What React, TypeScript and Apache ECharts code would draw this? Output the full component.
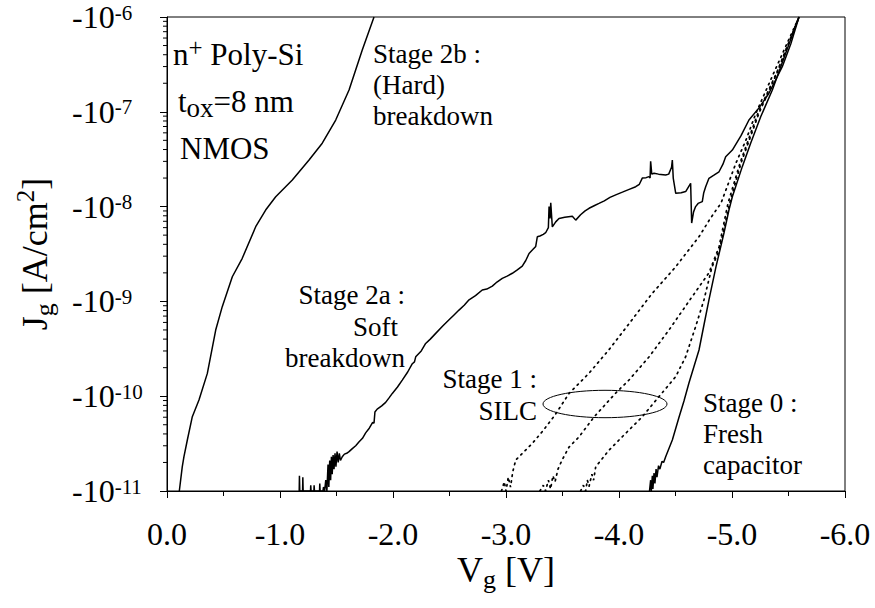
import React, { useEffect, useRef } from "react";
import * as echarts from "echarts";

const FONT = "'Liberation Serif', serif";

// x: gate voltage Vg [V]; y: |Jg| [A/cm^2] (plotted as -10^n)
const xTickValues = [0, -1, -2, -3, -4, -5, -6];
const xMinorTickValues = [-0.5, -1.5, -2.5, -3.5, -4.5, -5.5];
const yDecades = [-11, -10, -9, -8, -7, -6];
const yMinorMantissas = [2, 3, 4, 5, 6, 7, 8, 9];

// Stage 2b : (Hard) breakdown
const hardBreakdown: [number, number][] = [
  [-0.109, 1.0e-11], [-0.121, 1.31e-11], [-0.135, 1.8e-11], [-0.15, 2.3e-11],
  [-0.18, 3.45e-11], [-0.224, 6.08e-11], [-0.283, 9.1e-11], [-0.357, 1.74e-10],
  [-0.431, 4.99e-10], [-0.489, 8.8e-10], [-0.578, 1.82e-9], [-0.666, 2.85e-9],
  [-0.785, 6.14e-9], [-0.873, 9.2e-9], [-0.962, 1.27e-8], [-1.109, 1.91e-8],
  [-1.257, 3.1e-8], [-1.374, 4.66e-8], [-1.493, 8.18e-8], [-1.611, 1.7e-7],
  [-1.728, 4.49e-7], [-1.832, 1.0e-6],
];

// Stage 2a : Soft breakdown
const softBreakdown: [number, number][] = [
  [-1.17, 1.0e-11], [-1.172, 1.45e-11], [-1.175, 1.0e-11], [-1.2, 1.0e-11], [-1.202, 1.4e-11],
  [-1.205, 1.0e-11], [-1.27, 1.0e-11], [-1.272, 1.15e-11], [-1.275, 1.0e-11], [-1.3, 1.0e-11],
  [-1.302, 1.15e-11], [-1.305, 1.0e-11], [-1.35, 1.0e-11], [-1.352, 1.2e-11], [-1.355, 1.0e-11],
  [-1.38, 1.0e-11], [-1.385, 1.1e-11], [-1.395, 1.0e-11], [-1.405, 1.3e-11], [-1.415, 1.0e-11],
  [-1.425, 1.9e-11], [-1.432, 1.1e-11], [-1.44, 2.1e-11], [-1.448, 1.3e-11], [-1.455, 2.3e-11],
  [-1.462, 1.5e-11], [-1.47, 2.4e-11], [-1.478, 1.7e-11], [-1.487, 2.5e-11], [-1.495, 1.8e-11],
  [-1.505, 2.6e-11], [-1.515, 2.0e-11], [-1.525, 2.5e-11], [-1.535, 2.1e-11], [-1.551, 2.3e-11],
  [-1.57, 2.45e-11], [-1.59, 2.5e-11], [-1.611, 2.6e-11], [-1.64, 2.8e-11], [-1.67, 3.0e-11],
  [-1.7, 3.3e-11], [-1.73, 3.6e-11], [-1.758, 4.1e-11], [-1.79, 4.6e-11], [-1.82, 5.3e-11],
  [-1.832, 5.2e-11], [-1.84, 6.8e-11], [-1.86, 7.3e-11], [-1.9, 7.9e-11], [-1.935, 8.6e-11],
  [-1.965, 9.6e-11], [-1.994, 1.07e-10], [-2.04, 1.25e-10], [-2.082, 1.48e-10], [-2.13, 1.8e-10],
  [-2.171, 2.2e-10], [-2.19, 2.3e-10], [-2.201, 2.6e-10], [-2.25, 3.0e-10], [-2.289, 3.6e-10],
  [-2.33, 4.0e-10], [-2.378, 4.6e-10], [-2.44, 5.5e-10], [-2.496, 6.4e-10], [-2.54, 7.2e-10],
  [-2.584, 8.1e-10], [-2.63, 9.1e-10], [-2.673, 1.04e-9], [-2.73, 1.15e-9], [-2.79, 1.32e-9],
  [-2.83, 1.35e-9], [-2.879, 1.45e-9], [-2.92, 1.6e-9], [-2.967, 1.75e-9], [-3.01, 1.85e-9],
  [-3.056, 1.98e-9], [-3.1, 2.15e-9], [-3.144, 2.35e-9], [-3.175, 2.7e-9], [-3.204, 3.2e-9],
  [-3.235, 3.5e-9], [-3.263, 3.8e-9], [-3.277, 4.8e-9], [-3.3, 4.9e-9], [-3.33, 5.1e-9],
  [-3.351, 5.3e-9], [-3.375, 6.0e-9], [-3.381, 1.0e-8], [-3.39, 7.5e-9], [-3.396, 1.1e-8],
  [-3.41, 6.1e-9], [-3.44, 6.9e-9], [-3.469, 7.5e-9], [-3.52, 7.7e-9], [-3.587, 7.9e-9],
  [-3.617, 7.2e-9], [-3.66, 8.2e-9], [-3.7, 9.0e-9], [-3.735, 9.6e-9], [-3.78, 1.02e-8],
  [-3.823, 1.08e-8], [-3.87, 1.15e-8], [-3.92, 1.25e-8], [-3.971, 1.33e-8], [-4.03, 1.42e-8],
  [-4.09, 1.52e-8], [-4.148, 1.62e-8], [-4.18, 1.72e-8], [-4.206, 2.0e-8], [-4.24, 2.02e-8],
  [-4.265, 2.07e-8], [-4.275, 2.0e-8], [-4.28, 3.0e-8], [-4.29, 2.2e-8], [-4.31, 2.25e-8],
  [-4.35, 2.2e-8], [-4.413, 2.15e-8], [-4.44, 2.2e-8], [-4.465, 2.6e-8], [-4.472, 3.1e-8],
  [-4.48, 2.0e-8], [-4.502, 1.38e-8], [-4.55, 1.4e-8], [-4.59, 1.44e-8], [-4.634, 1.76e-8],
  [-4.643, 6.7e-9], [-4.66, 8.8e-9], [-4.678, 1.0e-8], [-4.7, 1.08e-8], [-4.737, 1.13e-8],
  [-4.75, 1.4e-8], [-4.767, 1.62e-8], [-4.796, 1.99e-8], [-4.84, 2.15e-8], [-4.885, 2.33e-8],
  [-4.92, 2.8e-8], [-4.944, 3.36e-8], [-5.003, 3.95e-8], [-5.08, 5.6e-8], [-5.15, 8.2e-8],
  [-5.239, 1.1e-7], [-5.327, 1.57e-7], [-5.445, 2.99e-7], [-5.52, 5.2e-7], [-5.593, 1.0e-6],
];

// Stage 1 : SILC (three stressed curves, dotted)
const silc1: [number, number][] = [
  [-2.96, 1.0e-11], [-2.985, 1.25e-11], [-3.0, 1.0e-11], [-3.02, 1.4e-11], [-3.04, 1.1e-11],
  [-3.06, 1.6e-11], [-3.086, 2.12e-11], [-3.16, 2.6e-11], [-3.233, 3.18e-11], [-3.321, 4.23e-11],
  [-3.434, 6.34e-11], [-3.558, 1.07e-10], [-3.735, 1.75e-10], [-3.912, 3.1e-10], [-4.088, 5.8e-10],
  [-4.295, 1.22e-9], [-4.502, 2.32e-9], [-4.708, 4.81e-9], [-4.805, 7.4e-9], [-4.903, 1.09e-8],
  [-5.035, 2.88e-8], [-5.124, 5.05e-8], [-5.212, 9.7e-8], [-5.381, 2.76e-7], [-5.593, 1.0e-6],
];
const silc2: [number, number][] = [
  [-3.3, 1.0e-11], [-3.33, 1.15e-11], [-3.35, 1.0e-11], [-3.375, 1.3e-11], [-3.395, 1.05e-11],
  [-3.415, 1.45e-11], [-3.434, 1.25e-11], [-3.46, 1.7e-11], [-3.496, 2.12e-11], [-3.558, 2.91e-11],
  [-3.646, 3.72e-11], [-3.779, 6.04e-11], [-3.971, 1.08e-10], [-4.088, 1.48e-10], [-4.265, 2.59e-10],
  [-4.442, 4.99e-10], [-4.628, 1.04e-9], [-4.796, 2.0e-9], [-4.885, 3.75e-9], [-4.965, 1.09e-8],
  [-5.071, 2.88e-8], [-5.23, 9.7e-8], [-5.398, 2.63e-7], [-5.593, 1.0e-6],
];
const silc3: [number, number][] = [
  [-3.66, 1.0e-11], [-3.685, 1.15e-11], [-3.705, 1.0e-11], [-3.72, 1.3e-11], [-3.735, 1.12e-11],
  [-3.76, 1.5e-11], [-3.775, 1.3e-11], [-3.794, 1.8e-11], [-3.912, 2.7e-11], [-4.059, 4.06e-11],
  [-4.206, 6.07e-11], [-4.354, 9.9e-11], [-4.502, 1.61e-10], [-4.59, 2.61e-10], [-4.678, 5.41e-10],
  [-4.752, 1.04e-9], [-4.823, 2.31e-9], [-4.885, 3.4e-9], [-4.982, 1.12e-8], [-5.08, 2.88e-8],
  [-5.239, 9.7e-8], [-5.398, 2.57e-7], [-5.593, 1.0e-6],
];

// Stage 0 : Fresh capacitor
const fresh: [number, number][] = [
  [-4.27, 1.0e-11], [-4.28, 1.3e-11], [-4.286, 1.0e-11], [-4.295, 1.45e-11], [-4.3, 1.05e-11],
  [-4.31, 1.55e-11], [-4.318, 1.2e-11], [-4.328, 1.7e-11], [-4.336, 1.4e-11], [-4.35, 1.85e-11],
  [-4.362, 1.7e-11], [-4.38, 2.05e-11], [-4.395, 2.0e-11], [-4.413, 2.3e-11], [-4.472, 3.45e-11],
  [-4.531, 6.0e-11], [-4.575, 8.9e-11], [-4.619, 1.38e-10], [-4.708, 3.07e-10], [-4.75, 5.5e-10],
  [-4.796, 1.04e-9], [-4.858, 2.31e-9], [-4.929, 5.27e-9], [-4.973, 9.2e-9], [-5.003, 1.27e-8],
  [-5.091, 2.64e-8], [-5.165, 4.66e-8], [-5.254, 8.87e-8], [-5.357, 1.7e-7], [-5.475, 4.14e-7],
  [-5.593, 1.0e-6],
];

const solid = { color: "#000", width: 1.5 };
const dotted = { color: "#000", width: 1.7, type: [1.5, 4.5] as number[], cap: "round" as const };

function lineSeries(name: string, data: [number, number][], style: any) {
  return {
    name,
    type: "line",
    data,
    showSymbol: false,
    symbol: "none",
    smooth: false,
    clip: true,
    lineStyle: style,
    emphasis: { disabled: true },
  };
}

function txt(text: string, x: number, y: number, size: number, align: string = "left") {
  return {
    type: "text",
    x,
    y,
    silent: true,
    style: {
      text,
      fontFamily: FONT,
      fontSize: size,
      fill: "#000",
      align,
      verticalAlign: "middle",
    },
  };
}

export default function App() {
  const ref = useRef<HTMLDivElement>(null);

  useEffect(() => {
    const chart = echarts.init(ref.current!, null, { renderer: "svg" });

    const yMinorTicks: number[][] = [];
    yDecades.slice(0, -1).forEach((d) => {
      yMinorMantissas.forEach((m) => yMinorTicks.push([0, m * Math.pow(10, d)]));
    });
    const xMinorTicks = xMinorTickValues.map((v) => [v, Math.pow(10, yDecades[0])]);

    const option: any = {
      animation: false,
      backgroundColor: "#fff",
      textStyle: { fontFamily: FONT },
      grid: {
        left: 167,
        right: 30,
        top: 17,
        bottom: 117,
        show: true,
        borderColor: "#000",
        borderWidth: 1,
        containLabel: false,
        outerBoundsMode: "none",
      },
      xAxis: {
        type: "value",
        min: -6,
        max: 0,
        interval: 1,
        inverse: true,
        axisLine: { show: true, onZero: false, lineStyle: { color: "#000", width: 1 } },
        axisTick: { show: true, inside: false, length: 7, lineStyle: { color: "#000" } },
        minorTick: { show: false },
        splitLine: { show: false },
        axisLabel: {
          margin: 27,
          color: "#000",
          fontFamily: FONT,
          fontSize: 32,
          formatter: (v: number) => (xTickValues.indexOf(Math.round(v)) >= 0 ? v.toFixed(1) : ""),
        },
      },
      yAxis: {
        type: "log",
        logBase: 10,
        min: Math.pow(10, yDecades[0]),
        max: Math.pow(10, yDecades[yDecades.length - 1]),
        axisLine: { show: true, lineStyle: { color: "#000", width: 1 } },
        axisTick: { show: true, inside: false, length: 7, lineStyle: { color: "#000" } },
        minorTick: { show: false },
        splitLine: { show: false },
        axisLabel: {
          align: "left",
          margin: 95,
          color: "#000",
          fontFamily: FONT,
          formatter: (v: number) => `{b|-10}{s|${Math.round(Math.log10(v))}}`,
          rich: {
            b: { fontFamily: FONT, fontSize: 32, lineHeight: 30, color: "#000" },
            s: { fontFamily: FONT, fontSize: 21, lineHeight: 14, verticalAlign: "top", color: "#000" },
          },
        },
      },
      series: [
        lineSeries("Stage 2b", hardBreakdown, solid),
        lineSeries("Stage 2a", softBreakdown, solid),
        lineSeries("Stage 1 a", silc1, dotted),
        lineSeries("Stage 1 b", silc2, dotted),
        lineSeries("Stage 1 c", silc3, dotted),
        lineSeries("Stage 0", fresh, solid),
        {
          name: "y minor ticks",
          type: "custom",
          data: yMinorTicks,
          clip: false,
          silent: true,
          renderItem: (_p: any, api: any) => {
            const pt = api.coord([api.value(0), api.value(1)]);
            return {
              type: "line",
              shape: { x1: pt[0] - 4, y1: pt[1], x2: pt[0], y2: pt[1] },
              style: { stroke: "#000", lineWidth: 1 },
            };
          },
        },
        {
          name: "x minor ticks",
          type: "custom",
          data: xMinorTicks,
          clip: false,
          silent: true,
          renderItem: (_p: any, api: any) => {
            const pt = api.coord([api.value(0), api.value(1)]);
            return {
              type: "line",
              shape: { x1: pt[0], y1: pt[1], x2: pt[0], y2: pt[1] + 5 },
              style: { stroke: "#000", lineWidth: 1 },
            };
          },
        },
      ],
      graphic: [
        // axis titles
        {
          type: "text",
          x: 506,
          y: 570,
          silent: true,
          style: {
            text: "{a|V}{s|g}{a| [V]}",
            align: "center",
            verticalAlign: "middle",
            fill: "#000",
            rich: {
              a: { fontFamily: FONT, fontSize: 36, lineHeight: 44, fill: "#000" },
              s: { fontFamily: FONT, fontSize: 26, lineHeight: 26, verticalAlign: "bottom", fill: "#000" },
            },
          },
        },
        {
          type: "text",
          x: 35,
          y: 254,
          rotation: Math.PI / 2,
          silent: true,
          style: {
            text: "{a|J}{s|g}{a| [A/cm}{u|2}{a|]}",
            align: "center",
            verticalAlign: "middle",
            fill: "#000",
            rich: {
              a: { fontFamily: FONT, fontSize: 36, lineHeight: 44, fill: "#000" },
              s: { fontFamily: FONT, fontSize: 26, lineHeight: 26, verticalAlign: "bottom", fill: "#000" },
              u: { fontFamily: FONT, fontSize: 25, lineHeight: 26, verticalAlign: "top", fill: "#000" },
            },
          },
        },
        // sample description
        {
          type: "text",
          x: 173,
          y: 54.5,
          silent: true,
          style: {
            text: "{a|n}{p|+}{a| Poly-Si}",
            align: "left",
            verticalAlign: "middle",
            fill: "#000",
            rich: {
              a: { fontFamily: FONT, fontSize: 31, lineHeight: 40, fill: "#000" },
              p: { fontFamily: FONT, fontSize: 25, lineHeight: 22, verticalAlign: "top", fill: "#000" },
            },
          },
        },
        {
          type: "text",
          x: 178,
          y: 101.5,
          silent: true,
          style: {
            text: "{a|t}{s|ox}{a|=8 nm}",
            align: "left",
            verticalAlign: "middle",
            fill: "#000",
            rich: {
              a: { fontFamily: FONT, fontSize: 31, lineHeight: 40, fill: "#000" },
              s: { fontFamily: FONT, fontSize: 27, lineHeight: 28, verticalAlign: "bottom", fill: "#000" },
            },
          },
        },
        txt("NMOS", 180, 148.5, 31),
        // stage labels
        txt("Stage 2b :", 373, 54, 27),
        txt("(Hard)", 373, 85, 27),
        txt("breakdown", 373, 116, 27),
        txt("Stage 2a :", 405, 295, 27, "right"),
        txt("Soft", 398, 327, 27, "right"),
        txt("breakdown", 405, 358, 27, "right"),
        txt("Stage 1 :", 537, 379, 27, "right"),
        txt("SILC", 537, 411, 27, "right"),
        txt("Stage 0 :", 703, 403, 27),
        txt("Fresh", 703, 434, 27),
        txt("capacitor", 703, 465, 27),
        {
          type: "ellipse",
          silent: true,
          shape: { cx: 605, cy: 404, rx: 62, ry: 13.7 },
          style: { fill: "none", stroke: "#000", lineWidth: 1 },
        },
      ],
    };
    chart.setOption(option);
    return () => chart.dispose();
  }, []);

  return (
    <div
      ref={ref}
      style={{ position: "fixed", left: 0, top: 0, width: 875, height: 608, background: "#fff" }}
    />
  );
}
